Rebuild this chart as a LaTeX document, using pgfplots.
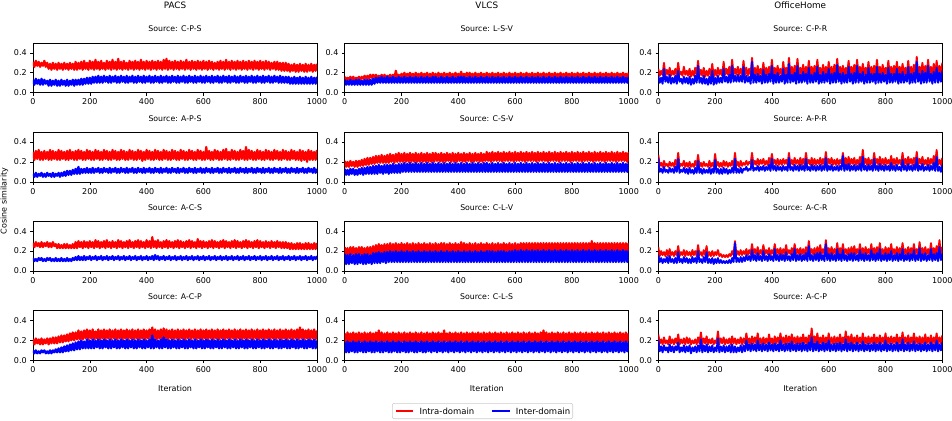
\documentclass[border=0pt]{standalone}
\usepackage{fontspec}
\setmainfont{DejaVu Sans}
\usepackage{pgfplots}
\usepackage{pgfplotstable}
\pgfplotsset{compat=1.18}

% PACS: r1/b1 = C-P-S, r2/b2 = A-P-S, r3/b3 = A-C-S, r4/b4 = A-C-P
\pgfplotstableread{
x r1 b1 r2 b2 r3 b3 r4 b4
0 0.31 0.13 0.30 0.08 0.28 0.13 0.21 0.10
5 0.26 0.08 0.22 0.05 0.24 0.10 0.16 0.07
10 0.32 0.14 0.31 0.09 0.29 0.12 0.22 0.10
15 0.27 0.09 0.23 0.05 0.25 0.10 0.17 0.07
20 0.31 0.13 0.32 0.08 0.28 0.13 0.21 0.09
25 0.26 0.08 0.22 0.06 0.24 0.11 0.16 0.07
30 0.30 0.14 0.30 0.09 0.29 0.13 0.22 0.10
35 0.27 0.08 0.22 0.05 0.24 0.10 0.16 0.08
40 0.32 0.13 0.31 0.08 0.28 0.12 0.21 0.10
45 0.26 0.09 0.23 0.05 0.25 0.10 0.17 0.07
50 0.30 0.12 0.30 0.09 0.29 0.13 0.22 0.09
55 0.24 0.07 0.22 0.06 0.24 0.11 0.16 0.07
60 0.29 0.13 0.32 0.08 0.28 0.13 0.22 0.10
65 0.23 0.07 0.22 0.05 0.24 0.10 0.17 0.07
70 0.30 0.12 0.31 0.09 0.29 0.12 0.23 0.10
75 0.24 0.08 0.23 0.05 0.25 0.10 0.17 0.08
80 0.29 0.13 0.30 0.08 0.27 0.13 0.23 0.11
85 0.23 0.07 0.22 0.06 0.23 0.10 0.17 0.08
90 0.30 0.12 0.32 0.09 0.27 0.12 0.24 0.12
95 0.24 0.07 0.22 0.05 0.23 0.10 0.18 0.08
100 0.29 0.13 0.31 0.09 0.26 0.13 0.25 0.13
105 0.23 0.08 0.23 0.06 0.23 0.10 0.18 0.08
110 0.30 0.12 0.30 0.10 0.27 0.12 0.25 0.14
115 0.24 0.07 0.22 0.06 0.23 0.10 0.19 0.09
120 0.29 0.13 0.31 0.11 0.27 0.13 0.26 0.15
125 0.23 0.07 0.22 0.07 0.23 0.10 0.19 0.09
130 0.30 0.12 0.32 0.11 0.26 0.12 0.27 0.16
135 0.24 0.08 0.23 0.07 0.23 0.10 0.20 0.10
140 0.29 0.13 0.30 0.12 0.27 0.13 0.28 0.17
145 0.23 0.07 0.22 0.08 0.23 0.11 0.20 0.10
150 0.31 0.13 0.31 0.13 0.29 0.14 0.28 0.18
155 0.23 0.08 0.22 0.08 0.23 0.11 0.21 0.11
160 0.30 0.13 0.32 0.15 0.30 0.15 0.30 0.19
165 0.24 0.08 0.23 0.08 0.24 0.11 0.21 0.11
170 0.31 0.14 0.31 0.13 0.29 0.14 0.29 0.20
175 0.23 0.08 0.22 0.09 0.23 0.11 0.21 0.12
180 0.32 0.14 0.30 0.13 0.30 0.15 0.30 0.19
185 0.24 0.09 0.22 0.09 0.24 0.11 0.22 0.12
190 0.30 0.15 0.32 0.14 0.29 0.14 0.31 0.21
195 0.23 0.09 0.23 0.09 0.23 0.12 0.21 0.12
200 0.32 0.15 0.31 0.13 0.30 0.15 0.30 0.20
205 0.24 0.09 0.22 0.09 0.24 0.11 0.22 0.12
210 0.31 0.16 0.30 0.14 0.29 0.14 0.31 0.21
215 0.23 0.10 0.22 0.09 0.23 0.12 0.21 0.12
220 0.33 0.16 0.32 0.13 0.31 0.15 0.29 0.20
225 0.24 0.10 0.23 0.10 0.24 0.11 0.22 0.13
230 0.31 0.17 0.31 0.14 0.30 0.14 0.31 0.21
235 0.23 0.10 0.22 0.09 0.23 0.12 0.21 0.12
240 0.32 0.16 0.30 0.13 0.29 0.15 0.30 0.20
245 0.24 0.10 0.22 0.09 0.24 0.11 0.22 0.12
250 0.30 0.17 0.32 0.14 0.30 0.14 0.31 0.21
255 0.23 0.11 0.23 0.10 0.23 0.12 0.21 0.13
260 0.32 0.16 0.31 0.13 0.31 0.15 0.30 0.20
265 0.24 0.10 0.22 0.09 0.24 0.11 0.22 0.12
270 0.31 0.17 0.30 0.14 0.29 0.14 0.31 0.21
275 0.23 0.10 0.22 0.09 0.23 0.12 0.21 0.12
280 0.33 0.16 0.32 0.13 0.30 0.15 0.30 0.20
285 0.24 0.11 0.23 0.10 0.24 0.11 0.22 0.13
290 0.31 0.17 0.31 0.14 0.29 0.14 0.31 0.21
295 0.23 0.10 0.22 0.09 0.23 0.12 0.21 0.12
300 0.34 0.16 0.30 0.13 0.31 0.15 0.30 0.20
305 0.24 0.10 0.22 0.09 0.24 0.11 0.22 0.12
310 0.31 0.17 0.32 0.14 0.30 0.14 0.31 0.21
315 0.23 0.11 0.23 0.10 0.23 0.12 0.21 0.13
320 0.32 0.16 0.31 0.13 0.29 0.15 0.30 0.20
325 0.24 0.10 0.22 0.09 0.24 0.11 0.22 0.12
330 0.30 0.17 0.30 0.14 0.30 0.14 0.31 0.21
335 0.23 0.10 0.22 0.09 0.23 0.12 0.21 0.12
340 0.32 0.16 0.32 0.13 0.31 0.15 0.30 0.20
345 0.24 0.11 0.23 0.10 0.24 0.11 0.22 0.13
350 0.31 0.17 0.31 0.14 0.29 0.14 0.31 0.21
355 0.23 0.10 0.22 0.09 0.23 0.12 0.21 0.12
360 0.32 0.16 0.30 0.13 0.30 0.15 0.30 0.20
365 0.24 0.10 0.22 0.09 0.24 0.11 0.22 0.12
370 0.31 0.17 0.32 0.14 0.31 0.14 0.31 0.21
375 0.23 0.11 0.23 0.10 0.23 0.12 0.21 0.13
380 0.33 0.16 0.31 0.13 0.30 0.15 0.30 0.20
385 0.24 0.10 0.21 0.09 0.24 0.11 0.22 0.12
390 0.31 0.17 0.30 0.14 0.29 0.14 0.31 0.21
395 0.23 0.10 0.22 0.09 0.23 0.12 0.21 0.12
400 0.32 0.16 0.32 0.13 0.31 0.15 0.30 0.20
405 0.24 0.11 0.23 0.10 0.24 0.11 0.22 0.13
410 0.31 0.17 0.31 0.14 0.30 0.14 0.31 0.21
415 0.23 0.10 0.22 0.09 0.23 0.12 0.21 0.12
420 0.32 0.16 0.30 0.13 0.34 0.15 0.33 0.25
425 0.24 0.10 0.22 0.09 0.24 0.11 0.22 0.12
430 0.31 0.17 0.32 0.14 0.30 0.16 0.31 0.21
435 0.23 0.11 0.23 0.10 0.23 0.12 0.21 0.13
440 0.32 0.16 0.31 0.13 0.31 0.15 0.30 0.20
445 0.24 0.10 0.22 0.09 0.24 0.11 0.22 0.12
450 0.31 0.17 0.30 0.14 0.29 0.14 0.31 0.21
455 0.23 0.10 0.22 0.09 0.23 0.12 0.21 0.12
460 0.33 0.16 0.32 0.13 0.30 0.15 0.32 0.23
465 0.24 0.11 0.23 0.10 0.24 0.11 0.22 0.13
470 0.34 0.17 0.31 0.14 0.31 0.14 0.31 0.21
475 0.23 0.10 0.22 0.09 0.23 0.12 0.21 0.12
480 0.32 0.16 0.30 0.13 0.30 0.15 0.30 0.20
485 0.24 0.10 0.22 0.09 0.24 0.11 0.22 0.12
490 0.31 0.17 0.32 0.14 0.29 0.14 0.31 0.21
495 0.23 0.11 0.23 0.10 0.23 0.12 0.21 0.13
500 0.32 0.16 0.31 0.13 0.30 0.15 0.30 0.20
505 0.24 0.10 0.22 0.09 0.24 0.11 0.22 0.12
510 0.31 0.17 0.30 0.14 0.31 0.14 0.31 0.21
515 0.23 0.10 0.22 0.09 0.23 0.12 0.21 0.12
520 0.32 0.16 0.32 0.13 0.30 0.15 0.30 0.20
525 0.24 0.11 0.23 0.10 0.24 0.11 0.22 0.13
530 0.31 0.17 0.31 0.14 0.29 0.14 0.31 0.21
535 0.23 0.10 0.22 0.09 0.23 0.12 0.21 0.12
540 0.33 0.16 0.30 0.13 0.30 0.15 0.30 0.20
545 0.24 0.10 0.22 0.09 0.24 0.11 0.22 0.12
550 0.31 0.17 0.32 0.14 0.31 0.14 0.31 0.21
555 0.23 0.11 0.23 0.10 0.23 0.12 0.21 0.13
560 0.32 0.16 0.31 0.13 0.30 0.15 0.30 0.20
565 0.24 0.10 0.22 0.09 0.24 0.11 0.22 0.12
570 0.31 0.17 0.30 0.14 0.29 0.14 0.31 0.21
575 0.23 0.10 0.22 0.09 0.23 0.12 0.21 0.12
580 0.32 0.16 0.32 0.13 0.32 0.15 0.30 0.20
585 0.24 0.11 0.23 0.10 0.24 0.11 0.22 0.13
590 0.31 0.17 0.31 0.14 0.30 0.14 0.31 0.21
595 0.23 0.10 0.22 0.09 0.23 0.12 0.21 0.12
600 0.32 0.16 0.30 0.13 0.30 0.15 0.30 0.20
605 0.24 0.10 0.22 0.09 0.24 0.11 0.22 0.12
610 0.31 0.17 0.35 0.14 0.29 0.14 0.31 0.21
615 0.23 0.11 0.23 0.10 0.23 0.12 0.21 0.13
620 0.32 0.16 0.31 0.13 0.30 0.15 0.30 0.20
625 0.24 0.10 0.22 0.09 0.24 0.11 0.22 0.12
630 0.31 0.17 0.30 0.14 0.31 0.14 0.31 0.21
635 0.23 0.10 0.22 0.09 0.23 0.12 0.21 0.12
640 0.30 0.16 0.32 0.13 0.30 0.15 0.30 0.20
645 0.24 0.11 0.23 0.10 0.24 0.11 0.22 0.13
650 0.31 0.17 0.31 0.14 0.29 0.14 0.31 0.21
655 0.23 0.10 0.22 0.09 0.23 0.12 0.21 0.12
660 0.32 0.16 0.30 0.13 0.30 0.15 0.30 0.20
665 0.24 0.10 0.22 0.09 0.24 0.11 0.22 0.12
670 0.31 0.17 0.32 0.14 0.31 0.14 0.31 0.21
675 0.23 0.11 0.23 0.10 0.23 0.12 0.21 0.13
680 0.33 0.16 0.33 0.13 0.30 0.15 0.30 0.20
685 0.24 0.10 0.22 0.09 0.24 0.11 0.22 0.12
690 0.31 0.17 0.30 0.14 0.29 0.14 0.31 0.21
695 0.23 0.10 0.22 0.09 0.23 0.12 0.21 0.12
700 0.32 0.16 0.32 0.13 0.30 0.15 0.30 0.20
705 0.24 0.11 0.23 0.10 0.24 0.11 0.22 0.13
710 0.31 0.17 0.31 0.14 0.31 0.14 0.31 0.21
715 0.23 0.10 0.22 0.09 0.23 0.12 0.21 0.12
720 0.32 0.16 0.30 0.13 0.30 0.15 0.30 0.20
725 0.24 0.10 0.22 0.09 0.24 0.11 0.22 0.12
730 0.31 0.17 0.32 0.14 0.29 0.14 0.31 0.21
735 0.23 0.11 0.23 0.10 0.23 0.12 0.21 0.13
740 0.32 0.16 0.31 0.13 0.30 0.15 0.30 0.20
745 0.24 0.10 0.22 0.09 0.24 0.11 0.22 0.12
750 0.31 0.17 0.35 0.14 0.31 0.14 0.31 0.21
755 0.23 0.10 0.22 0.09 0.23 0.12 0.21 0.12
760 0.32 0.16 0.32 0.13 0.30 0.15 0.30 0.20
765 0.24 0.11 0.23 0.10 0.24 0.11 0.22 0.13
770 0.31 0.17 0.31 0.14 0.29 0.14 0.31 0.21
775 0.23 0.10 0.22 0.09 0.23 0.12 0.21 0.12
780 0.32 0.16 0.30 0.13 0.30 0.15 0.30 0.20
785 0.24 0.10 0.22 0.09 0.24 0.11 0.22 0.12
790 0.31 0.17 0.32 0.14 0.31 0.14 0.31 0.21
795 0.23 0.11 0.23 0.10 0.23 0.12 0.21 0.13
800 0.32 0.16 0.31 0.13 0.30 0.15 0.30 0.20
805 0.24 0.10 0.22 0.09 0.24 0.11 0.22 0.12
810 0.31 0.17 0.30 0.14 0.29 0.14 0.31 0.21
815 0.23 0.10 0.22 0.09 0.23 0.12 0.21 0.12
820 0.32 0.16 0.32 0.13 0.30 0.15 0.30 0.20
825 0.24 0.11 0.23 0.10 0.24 0.11 0.22 0.13
830 0.31 0.17 0.31 0.14 0.29 0.14 0.31 0.21
835 0.23 0.10 0.22 0.09 0.23 0.12 0.21 0.12
840 0.30 0.16 0.30 0.13 0.30 0.15 0.30 0.20
845 0.24 0.10 0.22 0.09 0.24 0.11 0.22 0.12
850 0.31 0.17 0.32 0.14 0.29 0.14 0.31 0.21
855 0.23 0.11 0.23 0.10 0.23 0.12 0.21 0.13
860 0.31 0.16 0.31 0.13 0.30 0.15 0.30 0.20
865 0.23 0.10 0.22 0.09 0.24 0.11 0.22 0.12
870 0.30 0.17 0.30 0.14 0.29 0.14 0.31 0.21
875 0.22 0.10 0.22 0.09 0.23 0.12 0.21 0.12
880 0.30 0.16 0.32 0.13 0.29 0.15 0.30 0.20
885 0.22 0.10 0.23 0.10 0.23 0.11 0.22 0.13
890 0.30 0.16 0.31 0.14 0.29 0.14 0.31 0.21
895 0.22 0.10 0.22 0.09 0.23 0.12 0.21 0.12
900 0.29 0.16 0.30 0.13 0.28 0.15 0.30 0.20
905 0.21 0.09 0.22 0.09 0.22 0.11 0.22 0.12
910 0.28 0.15 0.32 0.14 0.28 0.14 0.31 0.21
915 0.22 0.09 0.23 0.10 0.22 0.12 0.21 0.13
920 0.29 0.16 0.31 0.13 0.27 0.15 0.30 0.20
925 0.21 0.09 0.22 0.09 0.22 0.11 0.22 0.12
930 0.28 0.15 0.30 0.14 0.28 0.14 0.31 0.21
935 0.21 0.09 0.22 0.09 0.22 0.12 0.21 0.12
940 0.29 0.16 0.32 0.13 0.28 0.15 0.33 0.20
945 0.22 0.09 0.21 0.10 0.22 0.11 0.22 0.13
950 0.28 0.15 0.31 0.14 0.27 0.14 0.31 0.21
955 0.21 0.09 0.22 0.09 0.22 0.12 0.21 0.12
960 0.29 0.16 0.30 0.13 0.28 0.15 0.30 0.20
965 0.21 0.09 0.20 0.09 0.22 0.11 0.22 0.12
970 0.28 0.15 0.32 0.14 0.28 0.14 0.31 0.21
975 0.22 0.09 0.22 0.10 0.22 0.12 0.21 0.13
980 0.29 0.16 0.31 0.13 0.27 0.15 0.30 0.20
985 0.21 0.09 0.22 0.09 0.22 0.11 0.22 0.12
990 0.28 0.15 0.30 0.14 0.28 0.14 0.31 0.21
995 0.22 0.09 0.22 0.09 0.22 0.12 0.21 0.12
1000 0.29 0.16 0.32 0.13 0.28 0.15 0.30 0.20
}\tP

% VLCS: r1/b1 = L-S-V, r2/b2 = C-S-V, r3/b3 = C-L-V, r4/b4 = C-L-S
\pgfplotstableread{
x r1 b1 r2 b2 r3 b3 r4 b4
0 0.16 0.13 0.21 0.13 0.24 0.17 0.27 0.18
5 0.13 0.08 0.15 0.07 0.16 0.07 0.18 0.08
10 0.15 0.12 0.20 0.12 0.23 0.16 0.28 0.19
15 0.13 0.08 0.15 0.07 0.16 0.07 0.18 0.08
20 0.16 0.13 0.21 0.13 0.24 0.17 0.27 0.18
25 0.13 0.08 0.16 0.08 0.17 0.08 0.19 0.09
30 0.16 0.12 0.20 0.13 0.24 0.16 0.28 0.19
35 0.13 0.08 0.15 0.07 0.16 0.07 0.18 0.08
40 0.15 0.13 0.21 0.12 0.23 0.17 0.27 0.18
45 0.13 0.08 0.15 0.07 0.16 0.07 0.18 0.08
50 0.16 0.13 0.21 0.13 0.24 0.17 0.28 0.19
55 0.13 0.08 0.16 0.08 0.17 0.08 0.19 0.09
60 0.16 0.12 0.22 0.14 0.24 0.16 0.27 0.18
65 0.14 0.08 0.16 0.07 0.16 0.07 0.18 0.08
70 0.17 0.13 0.23 0.14 0.23 0.17 0.28 0.19
75 0.14 0.08 0.17 0.08 0.16 0.07 0.18 0.08
80 0.17 0.13 0.24 0.15 0.24 0.17 0.27 0.18
85 0.14 0.08 0.17 0.08 0.17 0.08 0.19 0.09
90 0.18 0.13 0.24 0.15 0.24 0.16 0.28 0.19
95 0.15 0.08 0.18 0.08 0.16 0.07 0.18 0.08
100 0.18 0.14 0.25 0.16 0.25 0.18 0.27 0.18
105 0.15 0.09 0.18 0.08 0.17 0.08 0.18 0.08
110 0.18 0.15 0.26 0.16 0.26 0.18 0.28 0.19
115 0.15 0.10 0.19 0.08 0.17 0.08 0.19 0.09
120 0.17 0.15 0.26 0.17 0.27 0.19 0.30 0.18
125 0.15 0.10 0.19 0.09 0.18 0.08 0.18 0.08
130 0.18 0.16 0.27 0.16 0.26 0.18 0.28 0.19
135 0.15 0.10 0.19 0.08 0.18 0.09 0.18 0.08
140 0.18 0.15 0.26 0.17 0.27 0.19 0.27 0.18
145 0.15 0.10 0.19 0.09 0.18 0.08 0.19 0.09
150 0.17 0.16 0.27 0.17 0.27 0.19 0.28 0.19
155 0.15 0.10 0.19 0.08 0.19 0.09 0.18 0.08
160 0.18 0.15 0.28 0.17 0.28 0.20 0.27 0.18
165 0.15 0.10 0.20 0.09 0.19 0.09 0.18 0.08
170 0.18 0.16 0.27 0.18 0.27 0.19 0.28 0.19
175 0.15 0.10 0.19 0.09 0.19 0.09 0.19 0.09
180 0.22 0.15 0.28 0.17 0.28 0.20 0.27 0.18
185 0.16 0.10 0.20 0.09 0.19 0.09 0.18 0.08
190 0.18 0.16 0.29 0.18 0.27 0.19 0.28 0.19
195 0.15 0.10 0.20 0.09 0.19 0.09 0.18 0.08
200 0.19 0.15 0.28 0.18 0.28 0.20 0.27 0.18
205 0.16 0.10 0.20 0.10 0.19 0.09 0.19 0.09
210 0.20 0.16 0.29 0.19 0.27 0.19 0.28 0.19
215 0.16 0.10 0.20 0.10 0.19 0.09 0.18 0.08
220 0.19 0.15 0.28 0.18 0.28 0.20 0.27 0.18
225 0.16 0.10 0.20 0.10 0.19 0.09 0.18 0.08
230 0.20 0.16 0.29 0.19 0.27 0.19 0.28 0.19
235 0.16 0.10 0.20 0.10 0.19 0.09 0.19 0.09
240 0.19 0.15 0.28 0.18 0.28 0.20 0.27 0.18
245 0.16 0.10 0.20 0.10 0.19 0.09 0.18 0.08
250 0.20 0.16 0.29 0.19 0.27 0.19 0.28 0.19
255 0.16 0.10 0.20 0.10 0.19 0.09 0.18 0.08
260 0.19 0.15 0.28 0.18 0.28 0.20 0.27 0.18
265 0.16 0.10 0.20 0.10 0.19 0.09 0.19 0.09
270 0.20 0.16 0.29 0.19 0.27 0.19 0.28 0.19
275 0.16 0.10 0.20 0.10 0.19 0.09 0.18 0.08
280 0.19 0.15 0.28 0.18 0.28 0.20 0.27 0.18
285 0.16 0.10 0.20 0.10 0.19 0.09 0.18 0.08
290 0.20 0.16 0.29 0.19 0.27 0.19 0.28 0.19
295 0.16 0.10 0.20 0.10 0.19 0.09 0.19 0.09
300 0.19 0.15 0.28 0.18 0.28 0.20 0.27 0.18
305 0.16 0.10 0.20 0.10 0.19 0.09 0.18 0.08
310 0.20 0.16 0.29 0.19 0.27 0.19 0.28 0.19
315 0.16 0.10 0.20 0.10 0.19 0.09 0.19 0.09
320 0.19 0.16 0.29 0.18 0.28 0.20 0.27 0.18
325 0.16 0.10 0.21 0.10 0.19 0.09 0.18 0.08
330 0.20 0.15 0.28 0.19 0.27 0.19 0.28 0.19
335 0.16 0.10 0.20 0.10 0.19 0.09 0.19 0.09
340 0.19 0.16 0.29 0.18 0.28 0.20 0.27 0.18
345 0.16 0.10 0.20 0.10 0.19 0.09 0.18 0.08
350 0.20 0.15 0.28 0.19 0.28 0.19 0.30 0.19
355 0.16 0.10 0.20 0.10 0.19 0.09 0.19 0.09
360 0.19 0.16 0.29 0.18 0.27 0.20 0.27 0.18
365 0.16 0.10 0.21 0.10 0.19 0.09 0.18 0.08
370 0.20 0.15 0.28 0.19 0.28 0.19 0.28 0.19
375 0.16 0.10 0.20 0.10 0.19 0.09 0.19 0.09
380 0.19 0.16 0.29 0.18 0.27 0.20 0.27 0.18
385 0.16 0.10 0.20 0.10 0.19 0.09 0.18 0.08
390 0.20 0.15 0.28 0.19 0.28 0.19 0.28 0.19
395 0.16 0.10 0.20 0.10 0.19 0.09 0.19 0.09
400 0.19 0.16 0.29 0.18 0.27 0.20 0.27 0.18
405 0.16 0.10 0.21 0.10 0.19 0.09 0.18 0.08
410 0.21 0.16 0.28 0.19 0.29 0.19 0.28 0.19
415 0.16 0.10 0.20 0.10 0.19 0.09 0.19 0.09
420 0.19 0.16 0.29 0.18 0.28 0.20 0.27 0.18
425 0.16 0.10 0.20 0.10 0.19 0.09 0.18 0.08
430 0.20 0.15 0.28 0.19 0.27 0.19 0.28 0.19
435 0.16 0.10 0.21 0.10 0.19 0.09 0.19 0.09
440 0.20 0.16 0.29 0.18 0.28 0.20 0.27 0.18
445 0.16 0.10 0.20 0.10 0.19 0.09 0.18 0.08
450 0.19 0.15 0.28 0.19 0.27 0.19 0.28 0.19
455 0.16 0.10 0.20 0.10 0.19 0.09 0.19 0.09
460 0.20 0.16 0.29 0.18 0.28 0.20 0.27 0.18
465 0.16 0.10 0.21 0.10 0.19 0.09 0.18 0.08
470 0.19 0.15 0.28 0.19 0.27 0.19 0.28 0.19
475 0.16 0.10 0.20 0.10 0.19 0.09 0.19 0.09
480 0.20 0.16 0.29 0.18 0.28 0.20 0.27 0.18
485 0.16 0.10 0.20 0.10 0.19 0.09 0.18 0.08
490 0.19 0.15 0.28 0.19 0.27 0.19 0.28 0.19
495 0.16 0.10 0.21 0.10 0.19 0.09 0.19 0.09
500 0.20 0.16 0.30 0.19 0.28 0.20 0.27 0.18
505 0.16 0.10 0.21 0.10 0.19 0.09 0.18 0.08
510 0.19 0.15 0.29 0.18 0.27 0.20 0.28 0.19
515 0.16 0.10 0.20 0.10 0.19 0.09 0.19 0.09
520 0.20 0.16 0.30 0.19 0.28 0.20 0.27 0.18
525 0.16 0.10 0.21 0.10 0.19 0.09 0.18 0.08
530 0.19 0.15 0.29 0.18 0.27 0.19 0.28 0.19
535 0.16 0.10 0.21 0.10 0.19 0.09 0.19 0.09
540 0.20 0.16 0.30 0.19 0.28 0.20 0.27 0.18
545 0.16 0.10 0.21 0.10 0.19 0.09 0.18 0.08
550 0.19 0.15 0.29 0.18 0.27 0.20 0.28 0.19
555 0.16 0.10 0.20 0.10 0.19 0.09 0.19 0.09
560 0.20 0.16 0.30 0.19 0.28 0.20 0.27 0.18
565 0.16 0.10 0.21 0.10 0.19 0.09 0.18 0.08
570 0.19 0.15 0.29 0.18 0.27 0.19 0.28 0.19
575 0.16 0.10 0.21 0.10 0.19 0.09 0.19 0.09
580 0.20 0.16 0.30 0.19 0.28 0.20 0.27 0.18
585 0.16 0.10 0.21 0.10 0.19 0.09 0.18 0.08
590 0.19 0.15 0.29 0.18 0.27 0.20 0.28 0.19
595 0.16 0.10 0.20 0.10 0.19 0.09 0.19 0.09
600 0.20 0.16 0.30 0.19 0.28 0.21 0.27 0.18
605 0.16 0.10 0.21 0.10 0.19 0.09 0.18 0.08
610 0.19 0.15 0.29 0.18 0.27 0.20 0.28 0.19
615 0.16 0.10 0.21 0.10 0.19 0.09 0.19 0.09
620 0.20 0.16 0.30 0.19 0.28 0.21 0.27 0.18
625 0.16 0.10 0.21 0.10 0.19 0.09 0.18 0.08
630 0.19 0.15 0.29 0.18 0.28 0.20 0.28 0.19
635 0.16 0.10 0.20 0.10 0.19 0.09 0.19 0.09
640 0.20 0.16 0.30 0.19 0.28 0.21 0.27 0.18
645 0.16 0.10 0.21 0.10 0.19 0.09 0.18 0.08
650 0.19 0.15 0.29 0.18 0.28 0.20 0.28 0.19
655 0.16 0.10 0.21 0.10 0.19 0.09 0.19 0.09
660 0.20 0.16 0.30 0.19 0.28 0.21 0.27 0.18
665 0.16 0.10 0.21 0.10 0.19 0.09 0.18 0.08
670 0.19 0.15 0.29 0.18 0.28 0.20 0.28 0.19
675 0.16 0.10 0.20 0.10 0.19 0.09 0.19 0.09
680 0.20 0.16 0.30 0.19 0.28 0.21 0.27 0.18
685 0.16 0.10 0.21 0.10 0.19 0.09 0.18 0.08
690 0.19 0.15 0.29 0.18 0.28 0.20 0.28 0.19
695 0.16 0.10 0.21 0.10 0.19 0.09 0.19 0.09
700 0.20 0.16 0.30 0.19 0.28 0.21 0.30 0.18
705 0.16 0.10 0.21 0.10 0.19 0.09 0.18 0.08
710 0.19 0.15 0.29 0.18 0.28 0.20 0.28 0.19
715 0.16 0.10 0.20 0.10 0.19 0.09 0.19 0.09
720 0.20 0.16 0.30 0.19 0.28 0.21 0.27 0.18
725 0.16 0.10 0.21 0.10 0.19 0.09 0.18 0.08
730 0.19 0.15 0.29 0.18 0.28 0.20 0.28 0.19
735 0.16 0.10 0.21 0.10 0.19 0.09 0.19 0.09
740 0.20 0.16 0.30 0.19 0.28 0.21 0.27 0.18
745 0.16 0.10 0.21 0.10 0.19 0.09 0.18 0.08
750 0.19 0.15 0.29 0.18 0.28 0.20 0.28 0.19
755 0.16 0.10 0.20 0.10 0.19 0.09 0.19 0.09
760 0.20 0.16 0.30 0.19 0.28 0.21 0.27 0.18
765 0.16 0.10 0.21 0.10 0.19 0.09 0.18 0.08
770 0.19 0.15 0.29 0.18 0.28 0.20 0.28 0.19
775 0.16 0.10 0.21 0.10 0.19 0.09 0.19 0.09
780 0.20 0.16 0.30 0.19 0.28 0.21 0.27 0.18
785 0.16 0.10 0.21 0.10 0.19 0.09 0.18 0.08
790 0.19 0.15 0.29 0.18 0.28 0.20 0.28 0.19
795 0.16 0.10 0.20 0.10 0.19 0.09 0.19 0.09
800 0.20 0.16 0.30 0.19 0.28 0.21 0.27 0.18
805 0.16 0.10 0.21 0.10 0.19 0.09 0.18 0.08
810 0.19 0.15 0.29 0.18 0.28 0.20 0.28 0.19
815 0.16 0.10 0.21 0.10 0.19 0.09 0.19 0.09
820 0.20 0.16 0.30 0.19 0.28 0.21 0.27 0.18
825 0.16 0.10 0.21 0.10 0.19 0.09 0.18 0.08
830 0.19 0.15 0.29 0.18 0.28 0.20 0.28 0.19
835 0.16 0.10 0.20 0.10 0.19 0.09 0.19 0.09
840 0.20 0.16 0.30 0.19 0.28 0.21 0.27 0.18
845 0.16 0.10 0.21 0.10 0.19 0.09 0.18 0.08
850 0.19 0.15 0.29 0.18 0.28 0.20 0.28 0.19
855 0.16 0.10 0.21 0.10 0.19 0.09 0.19 0.09
860 0.20 0.16 0.30 0.19 0.28 0.21 0.27 0.18
865 0.16 0.10 0.21 0.10 0.19 0.09 0.18 0.08
870 0.19 0.15 0.29 0.18 0.30 0.20 0.28 0.19
875 0.16 0.10 0.20 0.10 0.19 0.09 0.19 0.09
880 0.20 0.16 0.30 0.19 0.28 0.21 0.27 0.18
885 0.16 0.10 0.21 0.10 0.19 0.09 0.18 0.08
890 0.19 0.15 0.29 0.18 0.28 0.20 0.28 0.19
895 0.16 0.10 0.21 0.10 0.19 0.09 0.19 0.09
900 0.20 0.16 0.30 0.19 0.28 0.21 0.27 0.18
905 0.16 0.10 0.21 0.10 0.19 0.09 0.18 0.08
910 0.19 0.15 0.29 0.18 0.28 0.20 0.28 0.19
915 0.16 0.10 0.20 0.10 0.19 0.09 0.19 0.09
920 0.20 0.16 0.30 0.19 0.28 0.21 0.27 0.18
925 0.16 0.10 0.21 0.10 0.19 0.09 0.18 0.08
930 0.19 0.15 0.29 0.18 0.28 0.20 0.28 0.19
935 0.16 0.10 0.21 0.10 0.19 0.09 0.19 0.09
940 0.20 0.16 0.30 0.19 0.28 0.21 0.27 0.18
945 0.16 0.10 0.21 0.10 0.19 0.09 0.18 0.08
950 0.19 0.15 0.29 0.18 0.28 0.20 0.28 0.19
955 0.16 0.10 0.20 0.10 0.19 0.09 0.19 0.09
960 0.20 0.16 0.30 0.19 0.28 0.21 0.27 0.18
965 0.16 0.10 0.21 0.10 0.19 0.09 0.18 0.08
970 0.19 0.15 0.29 0.18 0.28 0.20 0.28 0.19
975 0.16 0.10 0.21 0.10 0.19 0.09 0.19 0.09
980 0.20 0.16 0.30 0.19 0.28 0.21 0.27 0.18
985 0.16 0.10 0.21 0.10 0.19 0.09 0.18 0.08
990 0.19 0.15 0.29 0.18 0.28 0.20 0.28 0.19
995 0.16 0.10 0.20 0.10 0.19 0.09 0.19 0.09
1000 0.20 0.16 0.30 0.19 0.28 0.21 0.27 0.18
}\tV

% OfficeHome: r1/b1 = C-P-R, r2/b2 = A-P-R, r3/b3 = A-C-R, r4/b4 = A-C-P
\pgfplotstableread{
x r1 b1 r2 b2 r3 b3 r4 b4
0 0.24 0.17 0.27 0.24 0.24 0.16 0.26 0.21
5 0.17 0.10 0.16 0.10 0.15 0.09 0.17 0.09
10 0.22 0.15 0.19 0.13 0.20 0.13 0.21 0.14
15 0.18 0.09 0.15 0.09 0.16 0.08 0.16 0.08
20 0.30 0.24 0.21 0.15 0.19 0.12 0.23 0.15
25 0.17 0.11 0.16 0.10 0.15 0.09 0.17 0.10
30 0.23 0.16 0.18 0.12 0.21 0.14 0.20 0.13
35 0.18 0.10 0.15 0.09 0.15 0.08 0.16 0.08
40 0.25 0.18 0.20 0.14 0.22 0.15 0.24 0.16
45 0.17 0.09 0.16 0.10 0.16 0.09 0.17 0.09
50 0.22 0.15 0.19 0.13 0.19 0.12 0.21 0.14
55 0.18 0.10 0.15 0.09 0.15 0.08 0.16 0.08
60 0.24 0.17 0.22 0.15 0.20 0.13 0.22 0.14
65 0.17 0.09 0.16 0.10 0.16 0.08 0.17 0.10
70 0.30 0.22 0.29 0.23 0.25 0.19 0.26 0.18
75 0.18 0.11 0.15 0.09 0.15 0.09 0.16 0.08
80 0.21 0.14 0.18 0.12 0.19 0.12 0.21 0.13
85 0.17 0.09 0.16 0.10 0.16 0.08 0.17 0.09
90 0.26 0.16 0.21 0.14 0.21 0.14 0.22 0.15
95 0.18 0.10 0.15 0.09 0.15 0.09 0.16 0.08
100 0.22 0.15 0.19 0.13 0.20 0.13 0.23 0.14
105 0.17 0.09 0.15 0.08 0.16 0.08 0.17 0.09
110 0.24 0.16 0.20 0.14 0.19 0.12 0.22 0.15
115 0.16 0.08 0.15 0.09 0.15 0.08 0.16 0.07
120 0.22 0.14 0.18 0.12 0.21 0.14 0.20 0.13
125 0.17 0.09 0.15 0.08 0.16 0.09 0.17 0.09
130 0.25 0.17 0.21 0.14 0.20 0.13 0.21 0.14
135 0.18 0.10 0.16 0.09 0.15 0.08 0.16 0.08
140 0.32 0.27 0.27 0.21 0.26 0.20 0.23 0.15
145 0.17 0.10 0.15 0.09 0.16 0.09 0.17 0.09
150 0.23 0.15 0.19 0.13 0.19 0.12 0.28 0.21
155 0.17 0.09 0.15 0.08 0.15 0.08 0.16 0.08
160 0.25 0.17 0.20 0.13 0.21 0.14 0.22 0.15
165 0.16 0.09 0.16 0.09 0.16 0.09 0.17 0.09
170 0.22 0.14 0.18 0.12 0.25 0.19 0.24 0.16
175 0.17 0.08 0.15 0.09 0.15 0.08 0.16 0.08
180 0.24 0.16 0.21 0.14 0.19 0.12 0.21 0.14
185 0.17 0.09 0.15 0.08 0.15 0.08 0.17 0.09
190 0.29 0.22 0.19 0.13 0.20 0.13 0.22 0.15
195 0.16 0.08 0.15 0.09 0.15 0.07 0.16 0.08
200 0.23 0.15 0.28 0.22 0.19 0.12 0.20 0.13
205 0.17 0.09 0.16 0.09 0.16 0.08 0.17 0.09
210 0.25 0.17 0.20 0.13 0.21 0.13 0.29 0.22
215 0.18 0.10 0.15 0.08 0.15 0.08 0.16 0.08
220 0.23 0.15 0.19 0.13 0.17 0.11 0.22 0.14
225 0.17 0.10 0.15 0.08 0.14 0.08 0.17 0.09
230 0.31 0.24 0.21 0.14 0.16 0.10 0.23 0.15
235 0.18 0.11 0.16 0.09 0.14 0.08 0.16 0.08
240 0.24 0.16 0.20 0.13 0.16 0.10 0.21 0.14
245 0.18 0.10 0.15 0.08 0.14 0.08 0.17 0.09
250 0.26 0.18 0.19 0.12 0.17 0.11 0.22 0.15
255 0.17 0.10 0.16 0.09 0.15 0.08 0.16 0.08
260 0.33 0.27 0.21 0.14 0.20 0.13 0.24 0.16
265 0.18 0.11 0.15 0.09 0.16 0.09 0.17 0.08
270 0.24 0.17 0.29 0.23 0.30 0.28 0.22 0.14
275 0.18 0.11 0.16 0.09 0.16 0.09 0.16 0.08
280 0.26 0.18 0.20 0.13 0.20 0.13 0.21 0.13
285 0.18 0.11 0.15 0.09 0.16 0.09 0.17 0.09
290 0.24 0.17 0.21 0.14 0.21 0.14 0.23 0.15
295 0.18 0.11 0.16 0.09 0.16 0.09 0.16 0.08
300 0.32 0.26 0.19 0.13 0.20 0.14 0.22 0.15
305 0.18 0.10 0.17 0.12 0.17 0.10 0.17 0.09
310 0.25 0.17 0.21 0.15 0.22 0.16 0.27 0.20
315 0.17 0.11 0.17 0.11 0.16 0.11 0.17 0.10
320 0.24 0.16 0.20 0.13 0.21 0.15 0.22 0.16
325 0.18 0.09 0.18 0.12 0.17 0.10 0.16 0.09
330 0.35 0.31 0.29 0.22 0.27 0.21 0.24 0.17
335 0.17 0.10 0.17 0.11 0.17 0.11 0.17 0.10
340 0.25 0.18 0.21 0.14 0.22 0.16 0.23 0.16
345 0.18 0.10 0.17 0.12 0.17 0.10 0.17 0.09
350 0.27 0.19 0.23 0.16 0.24 0.18 0.27 0.20
355 0.17 0.11 0.17 0.11 0.16 0.11 0.17 0.10
360 0.24 0.17 0.22 0.15 0.21 0.15 0.22 0.16
365 0.18 0.09 0.18 0.12 0.17 0.10 0.16 0.09
370 0.30 0.23 0.23 0.16 0.26 0.20 0.23 0.17
375 0.17 0.10 0.17 0.11 0.17 0.11 0.17 0.10
380 0.25 0.18 0.21 0.15 0.21 0.15 0.22 0.16
385 0.18 0.10 0.17 0.12 0.17 0.10 0.17 0.09
390 0.26 0.19 0.24 0.17 0.23 0.17 0.26 0.18
395 0.17 0.11 0.17 0.11 0.16 0.11 0.17 0.10
400 0.33 0.27 0.28 0.23 0.21 0.15 0.22 0.16
405 0.18 0.09 0.18 0.12 0.17 0.10 0.16 0.09
410 0.25 0.18 0.22 0.16 0.27 0.22 0.24 0.17
415 0.17 0.10 0.17 0.11 0.17 0.11 0.17 0.10
420 0.27 0.20 0.23 0.16 0.22 0.16 0.23 0.16
425 0.18 0.10 0.17 0.12 0.17 0.10 0.17 0.09
430 0.24 0.17 0.22 0.15 0.23 0.17 0.27 0.20
435 0.17 0.11 0.17 0.11 0.16 0.11 0.17 0.10
440 0.31 0.24 0.23 0.16 0.22 0.16 0.23 0.16
445 0.18 0.09 0.18 0.12 0.17 0.10 0.16 0.09
450 0.25 0.18 0.22 0.15 0.26 0.19 0.25 0.17
455 0.17 0.10 0.17 0.11 0.17 0.11 0.17 0.10
460 0.35 0.29 0.29 0.24 0.21 0.15 0.24 0.17
465 0.18 0.10 0.17 0.12 0.17 0.10 0.17 0.09
470 0.26 0.18 0.22 0.15 0.23 0.17 0.26 0.19
475 0.17 0.11 0.17 0.11 0.16 0.11 0.17 0.10
480 0.27 0.20 0.24 0.17 0.27 0.22 0.23 0.16
485 0.18 0.09 0.18 0.12 0.17 0.10 0.16 0.09
490 0.34 0.27 0.22 0.16 0.22 0.16 0.24 0.17
495 0.17 0.10 0.17 0.11 0.17 0.11 0.17 0.10
500 0.25 0.18 0.24 0.17 0.23 0.17 0.23 0.17
505 0.18 0.10 0.17 0.12 0.17 0.10 0.17 0.09
510 0.28 0.21 0.23 0.16 0.22 0.16 0.26 0.18
515 0.17 0.11 0.17 0.11 0.16 0.11 0.17 0.10
520 0.26 0.19 0.29 0.23 0.24 0.18 0.23 0.16
525 0.18 0.09 0.18 0.12 0.17 0.10 0.16 0.09
530 0.32 0.25 0.22 0.15 0.30 0.25 0.25 0.18
535 0.17 0.10 0.17 0.11 0.17 0.11 0.17 0.10
540 0.26 0.18 0.24 0.17 0.22 0.16 0.32 0.23
545 0.18 0.10 0.17 0.12 0.17 0.10 0.17 0.09
550 0.27 0.20 0.23 0.16 0.23 0.17 0.24 0.17
555 0.17 0.11 0.17 0.11 0.16 0.11 0.17 0.10
560 0.33 0.26 0.22 0.16 0.24 0.18 0.27 0.19
565 0.18 0.09 0.18 0.12 0.17 0.10 0.16 0.09
570 0.25 0.18 0.24 0.17 0.26 0.19 0.23 0.16
575 0.17 0.10 0.17 0.11 0.17 0.11 0.17 0.10
580 0.28 0.21 0.23 0.16 0.22 0.16 0.25 0.18
585 0.18 0.10 0.17 0.12 0.17 0.10 0.17 0.09
590 0.26 0.19 0.30 0.24 0.31 0.27 0.23 0.17
595 0.17 0.11 0.17 0.11 0.16 0.11 0.17 0.10
600 0.31 0.24 0.23 0.16 0.23 0.17 0.27 0.20
605 0.18 0.09 0.18 0.12 0.17 0.10 0.16 0.09
610 0.26 0.19 0.24 0.17 0.24 0.18 0.23 0.16
615 0.17 0.10 0.17 0.11 0.17 0.11 0.17 0.10
620 0.28 0.20 0.22 0.15 0.22 0.16 0.24 0.17
625 0.18 0.10 0.17 0.12 0.17 0.10 0.17 0.09
630 0.34 0.28 0.23 0.16 0.28 0.22 0.23 0.17
635 0.17 0.11 0.17 0.11 0.16 0.11 0.17 0.10
640 0.26 0.19 0.22 0.16 0.23 0.17 0.26 0.18
645 0.18 0.09 0.18 0.12 0.17 0.10 0.16 0.09
650 0.27 0.20 0.29 0.26 0.27 0.21 0.23 0.16
655 0.17 0.10 0.17 0.11 0.17 0.11 0.17 0.10
660 0.25 0.18 0.24 0.17 0.22 0.16 0.29 0.21
665 0.18 0.10 0.17 0.12 0.17 0.10 0.17 0.09
670 0.32 0.26 0.25 0.18 0.23 0.17 0.24 0.17
675 0.17 0.11 0.17 0.11 0.16 0.11 0.17 0.10
680 0.26 0.19 0.23 0.16 0.24 0.18 0.26 0.18
685 0.18 0.09 0.18 0.12 0.17 0.10 0.16 0.09
690 0.28 0.20 0.24 0.17 0.25 0.18 0.23 0.16
695 0.17 0.10 0.17 0.11 0.17 0.11 0.17 0.10
700 0.33 0.27 0.22 0.16 0.22 0.16 0.25 0.18
705 0.18 0.10 0.17 0.12 0.17 0.10 0.17 0.09
710 0.26 0.19 0.25 0.18 0.27 0.21 0.23 0.16
715 0.17 0.11 0.17 0.11 0.16 0.11 0.17 0.10
720 0.29 0.21 0.32 0.25 0.23 0.17 0.27 0.19
725 0.18 0.09 0.18 0.12 0.17 0.10 0.16 0.09
730 0.25 0.18 0.23 0.16 0.24 0.18 0.23 0.16
735 0.17 0.10 0.17 0.11 0.17 0.11 0.17 0.10
740 0.31 0.25 0.24 0.17 0.22 0.16 0.24 0.17
745 0.18 0.10 0.17 0.12 0.17 0.10 0.17 0.09
750 0.26 0.19 0.22 0.16 0.27 0.21 0.23 0.16
755 0.17 0.11 0.17 0.11 0.16 0.11 0.17 0.10
760 0.27 0.19 0.29 0.23 0.23 0.17 0.26 0.18
765 0.18 0.09 0.18 0.12 0.17 0.10 0.16 0.09
770 0.33 0.26 0.23 0.16 0.24 0.18 0.23 0.16
775 0.17 0.10 0.17 0.11 0.17 0.11 0.17 0.10
780 0.26 0.19 0.25 0.18 0.28 0.22 0.25 0.18
785 0.18 0.10 0.17 0.12 0.17 0.10 0.17 0.09
790 0.28 0.20 0.23 0.16 0.22 0.16 0.23 0.16
795 0.17 0.11 0.17 0.11 0.16 0.11 0.17 0.10
800 0.25 0.18 0.24 0.17 0.24 0.18 0.27 0.20
805 0.18 0.09 0.18 0.12 0.17 0.10 0.16 0.09
810 0.32 0.25 0.22 0.16 0.23 0.17 0.23 0.16
815 0.17 0.10 0.17 0.11 0.17 0.11 0.17 0.10
820 0.26 0.19 0.26 0.19 0.27 0.20 0.24 0.17
825 0.18 0.10 0.17 0.12 0.17 0.10 0.17 0.09
830 0.27 0.19 0.23 0.16 0.22 0.16 0.23 0.16
835 0.17 0.11 0.17 0.11 0.16 0.11 0.17 0.10
840 0.31 0.24 0.24 0.17 0.24 0.18 0.26 0.18
845 0.18 0.09 0.18 0.12 0.17 0.10 0.16 0.09
850 0.26 0.19 0.22 0.15 0.23 0.17 0.23 0.16
855 0.17 0.10 0.17 0.11 0.17 0.11 0.17 0.10
860 0.29 0.21 0.29 0.22 0.28 0.22 0.28 0.21
865 0.18 0.10 0.17 0.12 0.17 0.10 0.17 0.09
870 0.25 0.18 0.23 0.16 0.22 0.16 0.23 0.16
875 0.17 0.11 0.17 0.11 0.16 0.11 0.17 0.10
880 0.32 0.26 0.25 0.18 0.24 0.18 0.25 0.18
885 0.18 0.09 0.18 0.12 0.17 0.10 0.16 0.09
890 0.26 0.19 0.23 0.16 0.23 0.17 0.23 0.16
895 0.17 0.10 0.17 0.11 0.17 0.11 0.17 0.10
900 0.28 0.20 0.24 0.17 0.27 0.21 0.27 0.19
905 0.18 0.10 0.17 0.12 0.17 0.10 0.17 0.09
910 0.36 0.31 0.30 0.24 0.22 0.16 0.23 0.16
915 0.17 0.11 0.17 0.11 0.16 0.11 0.17 0.10
920 0.26 0.19 0.23 0.16 0.29 0.23 0.24 0.17
925 0.18 0.09 0.18 0.12 0.17 0.10 0.16 0.09
930 0.30 0.22 0.25 0.18 0.23 0.17 0.23 0.16
935 0.17 0.10 0.17 0.11 0.17 0.11 0.17 0.10
940 0.27 0.20 0.22 0.15 0.24 0.18 0.26 0.18
945 0.18 0.10 0.17 0.12 0.17 0.10 0.17 0.09
950 0.33 0.27 0.24 0.17 0.22 0.16 0.23 0.16
955 0.17 0.11 0.17 0.11 0.16 0.11 0.17 0.10
960 0.26 0.19 0.23 0.16 0.28 0.22 0.25 0.18
965 0.18 0.09 0.18 0.12 0.17 0.10 0.16 0.09
970 0.29 0.21 0.26 0.19 0.23 0.17 0.23 0.16
975 0.17 0.10 0.17 0.11 0.17 0.11 0.17 0.10
980 0.32 0.25 0.32 0.25 0.25 0.18 0.27 0.20
985 0.18 0.10 0.17 0.11 0.17 0.10 0.17 0.09
990 0.27 0.20 0.22 0.15 0.31 0.24 0.23 0.16
995 0.17 0.11 0.17 0.10 0.16 0.11 0.17 0.10
1000 0.30 0.22 0.24 0.17 0.24 0.17 0.25 0.18
}\tO

\pgfplotsset{
  panel/.style={
    scale only axis, width=284pt, height=49.8pt, anchor=south west,
    xmin=0, xmax=1000, ymin=0, ymax=0.5,
    xtick={0,200,400,600,800,1000}, ytick={0,0.2,0.4},
    /pgf/number format/assume math mode=true,
    /pgf/number format/1000 sep={},
    yticklabel style={/pgf/number format/.cd, fixed, fixed zerofill, precision=1},
    tick align=outside, tick pos=left, major tick length=2.8pt,
    axis line style={line width=0.6pt, black},
    every tick/.style={black, line width=0.6pt},
    tick label style={font=\fontsize{8}{9}\selectfont},
    title style={font=\fontsize{7.8}{9}\selectfont, at={(0.5,1)}, anchor=base, yshift=5pt},
  },
  rline/.style={red, line width=2.2pt, line join=round, mark=none, forget plot},
  bline/.style={blue, line width=2.2pt, line join=round, mark=none, forget plot},
  rspike/.style={red, line width=1.9pt, line join=round, mark=none, forget plot},
  bspike/.style={blue, line width=1.9pt, line join=round, mark=none, forget plot},
}

\begin{document}
\begin{tikzpicture}
\path[use as bounding box] (0pt,0pt) rectangle (952pt,-420pt);

% column headers
\node[font=\fontsize{8.8}{10}\selectfont] at (175pt,-4.8pt) {PACS};
\node[font=\fontsize{8.8}{10}\selectfont] at (486.8pt,-4.8pt) {VLCS};
\node[font=\fontsize{8.8}{10}\selectfont] at (800.3pt,-4.8pt) {OfficeHome};

% column 1: PACS
\begin{axis}[panel, at={(33pt,-92.7pt)}, title={Source: C-P-S}]
\addplot[rline] table[x=x,y=r1] {\tP};
\addplot[bline] table[x=x,y=b1] {\tP};
\end{axis}
\begin{axis}[panel, at={(33pt,-181.8pt)}, title={Source: A-P-S}]
\addplot[rline] table[x=x,y=r2] {\tP};
\addplot[bline] table[x=x,y=b2] {\tP};
\end{axis}
\begin{axis}[panel, at={(33pt,-271pt)}, title={Source: A-C-S}]
\addplot[rline] table[x=x,y=r3] {\tP};
\addplot[bline] table[x=x,y=b3] {\tP};
\end{axis}
\begin{axis}[panel, at={(33pt,-360.3pt)}, title={Source: A-C-P}]
\addplot[rline] table[x=x,y=r4] {\tP};
\addplot[bline] table[x=x,y=b4] {\tP};
\end{axis}

% column 2: VLCS
\begin{axis}[panel, at={(344.7pt,-92.7pt)}, title={Source: L-S-V}]
\addplot[rline] table[x=x,y=r1] {\tV};
\addplot[bline] table[x=x,y=b1] {\tV};
\end{axis}
\begin{axis}[panel, at={(344.7pt,-181.8pt)}, title={Source: C-S-V}]
\addplot[rline] table[x=x,y=r2] {\tV};
\addplot[bline] table[x=x,y=b2] {\tV};
\end{axis}
\begin{axis}[panel, at={(344.7pt,-271pt)}, title={Source: C-L-V}]
\addplot[rline] table[x=x,y=r3] {\tV};
\addplot[bline] table[x=x,y=b3] {\tV};
\end{axis}
\begin{axis}[panel, at={(344.7pt,-360.3pt)}, title={Source: C-L-S}]
\addplot[rline] table[x=x,y=r4] {\tV};
\addplot[bline] table[x=x,y=b4] {\tV};
\end{axis}

% column 3: OfficeHome
\begin{axis}[panel, at={(658.3pt,-92.7pt)}, title={Source: C-P-R}]
\addplot[rspike] table[x=x,y=r1] {\tO};
\addplot[bspike] table[x=x,y=b1] {\tO};
\end{axis}
\begin{axis}[panel, at={(658.3pt,-181.8pt)}, title={Source: A-P-R}]
\addplot[rspike] table[x=x,y=r2] {\tO};
\addplot[bspike] table[x=x,y=b2] {\tO};
\end{axis}
\begin{axis}[panel, at={(658.3pt,-271pt)}, title={Source: A-C-R}]
\addplot[rspike] table[x=x,y=r3] {\tO};
\addplot[bspike] table[x=x,y=b3] {\tO};
\end{axis}
\begin{axis}[panel, at={(658.3pt,-360.3pt)}, title={Source: A-C-P}]
\addplot[rspike] table[x=x,y=r4] {\tO};
\addplot[bspike] table[x=x,y=b4] {\tO};
\end{axis}

% shared labels
\node[rotate=90, font=\fontsize{8}{9}\selectfont] at (4.5pt,-201pt) {Cosine similarity};
\node[font=\fontsize{8}{9}\selectfont] at (175pt,-388.7pt) {Iteration};
\node[font=\fontsize{8}{9}\selectfont] at (486.8pt,-388.7pt) {Iteration};
\node[font=\fontsize{8}{9}\selectfont] at (800.3pt,-388.7pt) {Iteration};

% legend
\draw[draw=black!20, fill=white, rounded corners=2pt, line width=0.6pt] (392.3pt,-403.3pt) rectangle (572.7pt,-418.7pt);
\draw[draw=red, line width=1.4pt] (395.5pt,-410.9pt) -- (413.3pt,-410.9pt);
\node[anchor=west, inner sep=0pt, font=\fontsize{8.5}{10}\selectfont] at (419.3pt,-410.9pt) {Intra-domain};
\draw[draw=blue, line width=1.4pt] (491.7pt,-410.9pt) -- (509.5pt,-410.9pt);
\node[anchor=west, inner sep=0pt, font=\fontsize{8.5}{10}\selectfont] at (515.7pt,-410.9pt) {Inter-domain};
\end{tikzpicture}
\end{document}
